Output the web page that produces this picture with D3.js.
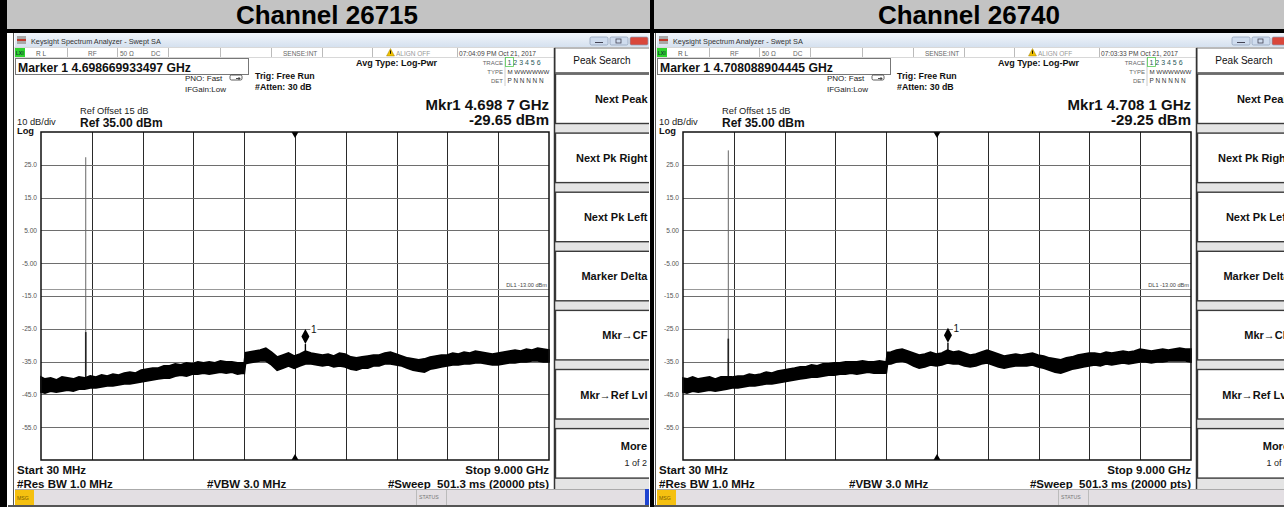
<!DOCTYPE html>
<html><head><meta charset="utf-8">
<script src="https://cdn.jsdelivr.net/npm/d3@7"></script>
<style>
html,body{margin:0;padding:0;background:#fff;overflow:hidden}
svg{display:block;font-family:"Liberation Sans",Arial,Helvetica,sans-serif}
</style></head><body>
<svg id="c" width="1284" height="507"></svg>
<script>
// ---------------- DATA ----------------
const channels = ["Channel 26715", "Channel 26740"];
const markerFreqText = ["Marker 1 4.698669933497 GHz", "Marker 1 4.708088904445 GHz"];
const markerFreqGHz = [4.698669933497, 4.708088904445];
const markerLevelDbm = [-29.65, -29.25];
const mkrReadoutFreq = ["Mkr1 4.698 7 GHz", "Mkr1 4.708 1 GHz"];
const mkrReadoutLevel = ["-29.65 dBm", "-29.25 dBm"];
const timestamps = ["07:04:09 PM Oct 21, 2017", "07:03:33 PM Oct 21, 2017"];
const yTickValues = [25, 15, 5, -5, -15, -25, -35, -45, -55];
const yTickLabels = ["25.0", "15.0", "5.00", "-5.00", "-15.0", "-25.0", "-35.0", "-45.0", "-55.0"];
const softkeys = ["Next Peak", "Next Pk Right", "Next Pk Left", "Marker Delta", "Mkr\u2192CF", "Mkr\u2192Ref Lvl"];
const startFreqGHz = 0.03, stopFreqGHz = 9.0, refLevelDbm = 35, dbPerDiv = 10;
const displayLineDbm = -13;
const carrierFreqGHz = [0.82, 0.83];
const carrierPeakDbm = [27.3, 29.4];
const carrierShoulderDbm = [-26.0, -28.0];

const traceFreqGHz = [0.03,0.1,0.2,0.3,0.4,0.5,0.6,0.7,0.8,0.9,
 1.0,1.1,1.2,1.3,1.4,1.5,1.6,1.7,1.8,1.9,
 2.0,2.1,2.2,2.3,2.4,2.5,2.6,2.7,2.8,2.9,
 3.0,3.1,3.2,3.3,3.4,3.5,3.6,3.62,3.64,3.7,3.8,3.9,
 4.0,4.1,4.2,4.3,4.4,4.5,4.6,4.7,4.8,4.9,
 5.0,5.1,5.2,5.3,5.4,5.5,5.6,5.7,5.8,5.9,
 6.0,6.1,6.2,6.3,6.4,6.5,6.6,6.7,6.8,6.9,
 7.0,7.1,7.2,7.3,7.4,7.5,7.6,7.7,7.8,7.9,
 8.0,8.1,8.2,8.3,8.4,8.5,8.6,8.7,8.8,8.9,9.0];

const traceUpper1 = [-39.7,-40.3,-40.0,-40.6,-39.7,-40.0,-40.3,-39.7,-40.0,-39.4,
 -39.7,-39.1,-39.4,-38.8,-39.1,-38.5,-38.2,-38.5,-37.6,-37.3,
 -37.0,-37.0,-36.3,-36.3,-35.7,-36.0,-35.4,-35.7,-35.1,-35.4,
 -35.1,-35.4,-34.8,-35.1,-35.1,-35.4,-35.4,-35.3,-32.3,-32.1,-31.8,-31.5,
 -30.9,-32.1,-33.6,-33.0,-32.4,-33.3,-32.7,-31.8,-32.4,-32.7,
 -33.0,-32.7,-33.3,-32.4,-32.7,-33.6,-33.9,-33.6,-33.3,-33.0,
 -33.0,-32.4,-32.1,-32.7,-33.3,-33.9,-34.2,-34.5,-34.2,-33.6,
 -33.3,-33.0,-33.0,-32.4,-32.7,-32.1,-32.4,-31.8,-32.1,-32.4,
 -32.7,-32.4,-32.1,-31.8,-31.5,-31.8,-31.2,-31.5,-30.9,-31.2,-31.5];
const traceLower1 = [-44.3,-44.6,-44.0,-44.3,-44.0,-43.7,-44.0,-43.4,-43.4,-43.0,
 -43.0,-42.7,-42.4,-42.4,-42.1,-41.8,-41.8,-41.5,-41.2,-40.9,
 -40.6,-40.3,-40.0,-40.0,-39.4,-39.1,-39.4,-38.8,-38.8,-38.5,
 -38.8,-38.5,-38.2,-38.5,-38.2,-38.8,-38.5,-38.6,-35.6,-35.4,-35.1,-34.8,
 -34.8,-36.0,-37.6,-37.0,-36.3,-37.0,-36.3,-35.7,-35.7,-36.0,
 -36.3,-36.0,-36.6,-36.3,-36.6,-37.3,-37.6,-37.0,-37.0,-36.3,
 -36.3,-35.7,-35.7,-36.0,-36.3,-37.0,-37.6,-37.9,-38.2,-37.3,
 -37.0,-36.6,-36.3,-36.0,-36.0,-35.7,-35.7,-35.4,-35.4,-35.7,
 -36.0,-36.0,-35.7,-35.4,-35.4,-35.1,-35.1,-34.8,-34.8,-35.1,-35.1];
const traceUpper2 = [-40.0,-40.3,-39.7,-40.3,-40.0,-39.7,-40.3,-39.7,-39.7,-39.7,
 -39.4,-39.4,-38.8,-39.1,-38.8,-38.2,-38.5,-37.9,-37.6,-37.3,
 -37.0,-36.6,-36.6,-36.0,-36.3,-35.7,-35.7,-35.4,-35.4,-35.1,
 -35.1,-35.1,-34.8,-35.1,-35.1,-34.8,-35.1,-35.0,-32.2,-32.1,-31.5,-31.2,
 -31.8,-32.4,-33.0,-32.7,-32.1,-32.7,-32.4,-31.5,-32.1,-31.8,
 -32.4,-33.0,-32.7,-32.1,-31.5,-32.1,-32.7,-33.3,-33.0,-32.7,
 -33.0,-32.7,-32.4,-33.0,-33.3,-33.9,-34.2,-34.5,-33.9,-33.6,
 -33.0,-32.7,-32.4,-32.4,-32.7,-32.1,-32.4,-32.1,-31.8,-32.1,
 -31.8,-31.2,-31.5,-31.8,-31.5,-31.2,-31.5,-31.2,-30.9,-31.2,-31.2];
const traceLower2 = [-44.3,-44.6,-44.0,-44.3,-44.0,-43.7,-44.0,-43.7,-43.4,-43.0,
 -43.0,-42.7,-42.4,-42.4,-42.1,-41.8,-41.8,-41.5,-41.2,-40.9,
 -40.6,-40.3,-40.0,-39.7,-39.7,-39.4,-39.1,-39.1,-38.8,-38.8,
 -38.5,-38.8,-38.5,-38.2,-38.5,-38.5,-38.5,-38.4,-35.8,-35.7,-35.1,-34.8,
 -35.4,-36.3,-37.0,-36.6,-36.0,-36.3,-36.0,-35.4,-35.7,-35.7,
 -36.3,-36.6,-36.3,-35.7,-35.4,-36.0,-36.6,-37.0,-36.6,-36.3,
 -36.3,-36.3,-36.0,-36.6,-37.0,-37.6,-38.2,-38.5,-37.9,-37.3,
 -37.0,-36.6,-36.3,-36.0,-36.3,-35.7,-36.0,-35.7,-35.4,-35.7,
 -35.4,-35.1,-35.1,-35.4,-35.1,-35.1,-34.8,-34.8,-34.8,-34.8,-35.1];
const traceUpper = [traceUpper1, traceUpper2];
const traceLower = [traceLower1, traceLower2];

// ---------------- DRAW ----------------
const W = 1284, H = 507;
const svg = d3.select("#c");
const defs = svg.append("defs");
const grad = defs.append("linearGradient").attr("id", "tbar").attr("x1", 0).attr("y1", 0).attr("x2", 0).attr("y2", 1);
grad.append("stop").attr("offset", "0%").attr("stop-color", "#f2f6fb");
grad.append("stop").attr("offset", "100%").attr("stop-color", "#d5e1ef");

svg.append("rect").attr("width", W).attr("height", H).attr("fill", "#fff");
// title row
svg.append("rect").attr("x", 0).attr("y", 0).attr("width", W).attr("height", 30).attr("fill", "#c3c3c3");
const titleCx = [327, 969];
channels.forEach((c, i) => {
  svg.append("text").attr("x", titleCx[i]).attr("y", 23.5).attr("text-anchor", "middle")
    .attr("font-size", 26).attr("font-weight", "bold").attr("fill", "#000").text(c);
});

const offsets = [0, 642];
function txt(g, x, y, s, size, opts = {}) {
  return g.append("text").attr("x", x).attr("y", y).attr("font-size", size)
    .attr("font-weight", opts.bold ? "bold" : "normal")
    .attr("text-anchor", opts.anchor || "start")
    .attr("fill", opts.fill || "#111").text(s);
}

channels.forEach((ch, i) => {
  defs.append("clipPath").attr("id", "clip" + i).append("rect")
    .attr("x", 8).attr("y", 33).attr("width", 641).attr("height", 474);
  const g = svg.append("g").attr("transform", `translate(${offsets[i]},0)`)
    .append("g").attr("clip-path", `url(#clip${i})`);
  drawScreen(g, i);
});

function drawScreen(g, i) {
  g.append("rect").attr("x", 8).attr("y", 33).attr("width", 641).attr("height", 474).attr("fill", "#fff");
  g.append("line").attr("x1", 13.5).attr("x2", 13.5).attr("y1", 33).attr("y2", 507).attr("stroke", "#555").attr("stroke-width", 1);

  // window title bar
  g.append("rect").attr("x", 15).attr("y", 33).attr("width", 640).attr("height", 14).attr("fill", "url(#tbar)");
  g.append("rect").attr("x", 17).attr("y", 36).attr("width", 9).attr("height", 8).attr("fill", "#a8a8a8");
  g.append("rect").attr("x", 17).attr("y", 39).attr("width", 9).attr("height", 2).attr("fill", "#c0392b");
  txt(g, 31, 44, "Keysight Spectrum Analyzer - Swept SA", 7.3, { fill: "#333" });
  [[590, "#cfdcee"], [610, "#cfdcee"], [630, "#d9473b"]].forEach(([bx, c]) => {
    g.append("rect").attr("x", bx).attr("y", 37).attr("width", 18).attr("height", 8).attr("rx", 1.5)
      .attr("fill", c).attr("stroke", "#8a9bb5").attr("stroke-width", 0.7);
  });
  g.append("line").attr("x1", 595).attr("x2", 603).attr("y1", 42.5).attr("y2", 42.5).attr("stroke", "#445").attr("stroke-width", 1);
  g.append("rect").attr("x", 616).attr("y", 39).attr("width", 5).attr("height", 4).attr("fill", "none").attr("stroke", "#445").attr("stroke-width", 0.8);

  // status row
  g.append("rect").attr("x", 15).attr("y", 47.5).attr("width", 540).attr("height", 10).attr("fill", "#fff").attr("stroke", "#cfcfcf").attr("stroke-width", 0.8);
  [67, 117, 168, 220, 271, 322, 372, 457].forEach(sx => {
    g.append("line").attr("x1", sx + 0.5).attr("x2", sx + 0.5).attr("y1", 48).attr("y2", 57).attr("stroke", "#bbb");
  });
  g.append("rect").attr("x", 15).attr("y", 48).attr("width", 10).attr("height", 9).attr("fill", "#2fd22f");
  txt(g, 15.8, 55, "LXI", 5, { fill: "#143", bold: true });
  txt(g, 36, 55.5, "R L", 6.5, { fill: "#555" });
  txt(g, 88, 55.5, "RF", 6.5, { fill: "#666" });
  txt(g, 120, 55.5, "50 \u03A9", 6.5, { fill: "#666" });
  txt(g, 151, 55.5, "DC", 6.5, { fill: "#666" });
  txt(g, 283, 55.5, "SENSE:INT", 6.5, { fill: "#666" });
  g.append("path").attr("d", "M386.5,56 L390.5,48.5 L394.5,56 Z").attr("fill", "#f0c000").attr("stroke", "#8a7000").attr("stroke-width", 0.4);
  g.append("line").attr("x1", 390.5).attr("x2", 390.5).attr("y1", 50.5).attr("y2", 53.8).attr("stroke", "#000").attr("stroke-width", 0.9);
  txt(g, 396, 55.5, "ALIGN OFF", 6.5, { fill: "#999" });
  txt(g, 459, 55.5, timestamps[i], 6.6, { fill: "#444" });

  // marker line box
  g.append("rect").attr("x", 15.5).attr("y", 58.5).attr("width", 233).attr("height", 16).attr("fill", "#fff").attr("stroke", "#777");
  txt(g, 18, 71.5, markerFreqText[i], 12.2, { bold: true });

  txt(g, 185, 81, "PNO: Fast", 8, { fill: "#222" });
  txt(g, 185, 91.5, "IFGain:Low", 8, { fill: "#222" });
  g.append("rect").attr("x", 230).attr("y", 75).attr("width", 12).attr("height", 5).attr("rx", 1.5).attr("fill", "#fff").attr("stroke", "#333").attr("stroke-width", 0.8);
  g.append("path").attr("d", "M236,78.5 L240,78.5 M238.5,77 L240,78.5 L238.5,80").attr("stroke", "#222").attr("fill", "none").attr("stroke-width", 0.8);
  txt(g, 255, 78.5, "Trig: Free Run", 8.8, { bold: true });
  txt(g, 255, 89.5, "#Atten: 30 dB", 8.8, { bold: true });
  txt(g, 356, 66, "Avg Type: Log-Pwr", 9, { bold: true });

  // trace table
  g.append("line").attr("x1", 505).attr("x2", 505).attr("y1", 58).attr("y2", 86).attr("stroke", "#ccc");
  txt(g, 503, 64.5, "TRACE", 6, { anchor: "end", fill: "#666" });
  txt(g, 503, 73.5, "TYPE", 6, { anchor: "end", fill: "#666" });
  txt(g, 503, 82.5, "DET", 6, { anchor: "end", fill: "#666" });
  g.append("rect").attr("x", 505.5).attr("y", 57.5).attr("width", 8).attr("height", 9).attr("fill", "none").attr("stroke", "#5c5").attr("stroke-width", 0.8);
  txt(g, 507.5, 65, "1  2  3  4  5  6", 7, { fill: "#2b5a5a" });
  txt(g, 507.5, 73.5, "M WWWWWW", 6.2, { fill: "#333" });
  txt(g, 507.5, 82.5, "P  N N N N  N", 6.4, { fill: "#333" });

  // marker readout
  txt(g, 549, 110, mkrReadoutFreq[i], 15, { bold: true, anchor: "end" });
  txt(g, 549, 124.5, mkrReadoutLevel[i], 15, { bold: true, anchor: "end" });

  txt(g, 80, 114, "Ref Offset 15 dB", 9.3, { fill: "#222" });
  txt(g, 80, 126.5, "Ref 35.00 dBm", 12, { bold: true });
  txt(g, 17, 125, "10 dB/div", 9.3, { fill: "#222" });
  txt(g, 17, 134, "Log", 9.3, { bold: true });

  // ---- plot ----
  const x = d3.scaleLinear().domain([startFreqGHz, stopFreqGHz]).range([41, 549]);
  const y = d3.scaleLinear().domain([refLevelDbm - 10 * dbPerDiv, refLevelDbm]).range([460, 132]);
  const plot = g.append("g");
  const span = stopFreqGHz - startFreqGHz;
  d3.range(1, 10).forEach(k => {
    const gx = Math.round(x(startFreqGHz + k * span / 10)) + 0.5;
    plot.append("line").attr("x1", gx).attr("x2", gx).attr("y1", 132).attr("y2", 460).attr("stroke", "#2a2a2a").attr("stroke-width", 1);
  });
  yTickValues.forEach((v, k) => {
    const gy = Math.round(y(v)) + 0.5;
    plot.append("line").attr("x1", 41).attr("x2", 549).attr("y1", gy).attr("y2", gy).attr("stroke", "#6e6e6e").attr("stroke-width", 1.1);
    txt(plot, 37, y(v) + 2.3, yTickLabels[k], 6.6, { anchor: "end", fill: "#555" });
  });
  // display line
  const dly = Math.round(y(displayLineDbm)) + 0.5;
  plot.append("line").attr("x1", 41).attr("x2", 549).attr("y1", dly).attr("y2", dly).attr("stroke", "#999").attr("stroke-width", 1);
  txt(plot, 547, dly - 2.5, "DL1 -13.00 dBm", 5.6, { anchor: "end", fill: "#444" });

  // carrier spike
  const cx = x(carrierFreqGHz[i]);
  plot.append("line").attr("x1", cx).attr("x2", cx).attr("y1", y(-38)).attr("y2", y(carrierPeakDbm[i])).attr("stroke", "#666").attr("stroke-width", 1);
  plot.append("line").attr("x1", cx).attr("x2", cx).attr("y1", y(-40)).attr("y2", y(carrierShoulderDbm[i])).attr("stroke", "#222").attr("stroke-width", 1.6);

  // trace band
  const data = traceFreqGHz.map((f, k) => ({ f, hi: traceUpper[i][k], lo: traceLower[i][k] }));
  const area = d3.area().x(d => x(d.f)).y0(d => y(d.lo)).y1(d => y(d.hi));
  plot.append("path").datum(data).attr("d", area).attr("fill", "#000").attr("stroke", "#000").attr("stroke-width", 1.8).attr("stroke-linejoin", "miter");

  // marker
  const mx = x(markerFreqGHz[i]), my = y(markerLevelDbm[i]);
  plot.append("line").attr("x1", mx).attr("x2", mx).attr("y1", y(-34)).attr("y2", my).attr("stroke", "#000").attr("stroke-width", 1.4);
  plot.append("path").attr("d", `M${mx},${my} L${mx - 4},${my - 7.5} L${mx},${my - 15} L${mx + 4},${my - 7.5} Z`).attr("fill", "#000");
  plot.append("rect").attr("x", mx + 5).attr("y", my - 19).attr("width", 7).attr("height", 12).attr("fill", "#fff");
  txt(plot, mx + 5.5, my - 11, "1", 10, { fill: "#111" });

  // center markers
  const ccx = x((startFreqGHz + stopFreqGHz) / 2);
  plot.append("path").attr("d", `M${ccx - 3.5},132 L${ccx + 3.5},132 L${ccx},138 Z`).attr("fill", "#000");
  plot.append("path").attr("d", `M${ccx - 3.5},460 L${ccx + 3.5},460 L${ccx},454 Z`).attr("fill", "#000");

  plot.append("rect").attr("x", 41).attr("y", 132).attr("width", 508).attr("height", 328).attr("fill", "none").attr("stroke", "#111").attr("stroke-width", 1.5);

  // bottom annotations
  txt(g, 17, 474, "Start 30 MHz", 11.5, { bold: true });
  txt(g, 17, 488, "#Res BW 1.0 MHz", 11.5, { bold: true });
  txt(g, 207, 488, "#VBW 3.0 MHz", 11.5, { bold: true });
  txt(g, 549, 474, "Stop 9.000 GHz", 11.5, { bold: true, anchor: "end" });
  txt(g, 549, 488, "#Sweep  501.3 ms (20000 pts)", 11.5, { bold: true, anchor: "end" }).style("white-space", "pre");

  // ---- softkey panel ----
  const p0 = 555;
  g.append("rect").attr("x", p0).attr("y", 48).attr("width", 100).attr("height", 441).attr("fill", "#e4e4e4");
  g.append("rect").attr("x", p0).attr("y", 48).attr("width", 100).attr("height", 24.5).attr("fill", "#fff").attr("stroke", "#777").attr("stroke-width", 1);
  txt(g, 602, 63.5, "Peak Search", 10, { anchor: "middle", fill: "#111" });
  const keys = softkeys.concat(["More"]);
  keys.forEach((k, j) => {
    const top = 74 + j * 59.1;
    g.append("rect").attr("x", p0 + 0.5).attr("y", top).attr("width", 100).attr("height", 49.5)
      .attr("fill", "#fff").attr("stroke", "#3a3a3a").attr("stroke-width", 1.4);
    if (k === "More") {
      txt(g, 647, top + 21.5, k, 11, { bold: true, anchor: "end" });
      txt(g, 647, top + 37.5, "1 of 2", 9, { anchor: "end", fill: "#222" });
    } else {
      txt(g, 647.5, top + 29, k, 11, { bold: true, anchor: "end" });
    }
  });
  g.append("line").attr("x1", p0 - 0.5).attr("x2", p0 - 0.5).attr("y1", 48).attr("y2", 489).attr("stroke", "#333").attr("stroke-width", 1.5);

  // status bar
  g.append("rect").attr("x", 15).attr("y", 489).attr("width", 640).attr("height", 16).attr("fill", "#e3dfe3");
  g.append("line").attr("x1", 15).attr("x2", 655).attr("y1", 489.5).attr("y2", 489.5).attr("stroke", "#aaa");
  g.append("rect").attr("x", 15).attr("y", 490).attr("width", 19).attr("height", 15).attr("fill", "#f5c010");
  txt(g, 17, 500, "MSG", 5.2, { fill: "#7a5a00" });
  [416, 446].forEach(sx => g.append("line").attr("x1", sx + 0.5).attr("x2", sx + 0.5).attr("y1", 490).attr("y2", 505).attr("stroke", "#bbb"));
  txt(g, 419, 498.5, "STATUS", 5.2, { fill: "#777" });
  g.append("rect").attr("x", 645).attr("y", 489).attr("width", 4).attr("height", 16).attr("fill", "#1f44d0");
  g.append("rect").attr("x", 8).attr("y", 505).attr("width", 650).attr("height", 2).attr("fill", "#555");
}

// frame borders on top
svg.append("rect").attr("x", 0).attr("y", 29).attr("width", W).attr("height", 4).attr("fill", "#000");
svg.append("rect").attr("x", 0).attr("y", 0).attr("width", 7).attr("height", H).attr("fill", "#000");
svg.append("rect").attr("x", 650).attr("y", 0).attr("width", 4).attr("height", H).attr("fill", "#000");
svg.append("line").attr("x1", 655.5).attr("x2", 655.5).attr("y1", 33).attr("y2", H).attr("stroke", "#555");
</script>
</body></html>
